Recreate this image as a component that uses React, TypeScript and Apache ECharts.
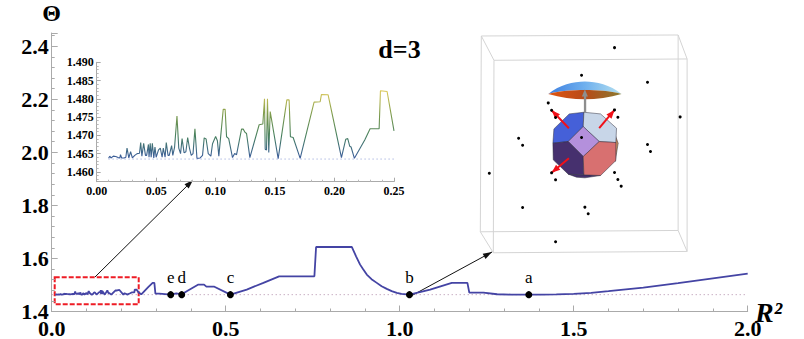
import React, { useEffect, useRef } from "react";
import * as echarts from "echarts";

const insetCurve: number[][] = [
  [0.01,1.4637],[0.011,1.4643],[0.012,1.4638],[0.014,1.4643],[0.016,1.4642],[0.018,1.4639],[0.0195,1.4638],[0.02,1.4647],[0.021,1.4638],[0.023,1.4638],[0.0245,1.464],[0.0255,1.4665],[0.027,1.4638],[0.0285,1.4655],[0.03,1.4638],[0.032,1.4645],[0.034,1.465],[0.036,1.4651],[0.037,1.468],[0.038,1.4643],[0.0395,1.4678],[0.041,1.4645],[0.042,1.4645],[0.0435,1.4675],[0.044,1.464],[0.045,1.4678],[0.0458,1.464],[0.0468,1.4678],[0.048,1.4638],[0.049,1.4668],[0.05,1.464],[0.052,1.466],[0.0535,1.4665],[0.055,1.464],[0.056,1.4665],[0.0575,1.464],[0.0585,1.468],[0.06,1.4645],[0.061,1.4645],[0.063,1.4672],[0.064,1.4645],[0.0655,1.4668],[0.0675,1.4753],[0.069,1.4665],[0.0705,1.465],[0.0718,1.4691],[0.0735,1.4652],[0.075,1.4655],[0.0765,1.4694],[0.078,1.4665],[0.0795,1.4645],[0.081,1.465],[0.0826,1.4718],[0.0843,1.4637],[0.087,1.4638],[0.089,1.4645],[0.0904,1.4693],[0.092,1.469],[0.0938,1.465],[0.096,1.4643],[0.0974,1.4677],[0.1,1.4697],[0.1015,1.4685],[0.1027,1.4643],[0.1064,1.4771],[0.108,1.4771],[0.1092,1.4696],[0.111,1.4691],[0.1142,1.4639],[0.116,1.465],[0.1176,1.4647],[0.1218,1.4717],[0.1232,1.4717],[0.1248,1.4708],[0.126,1.4705],[0.1288,1.4639],[0.1366,1.4729],[0.1397,1.4731],[0.1411,1.48],[0.1417,1.4662],[0.1428,1.466],[0.1436,1.48],[0.1447,1.4653],[0.1459,1.4765],[0.1526,1.4636],[0.1599,1.4797],[0.1618,1.4797],[0.1629,1.4696],[0.1652,1.4694],[0.1711,1.4637],[0.1828,1.4791],[0.1879,1.4792],[0.189,1.4812],[0.1946,1.4811],[0.2058,1.4639],[0.2094,1.4689],[0.2111,1.4691],[0.2128,1.467],[0.2139,1.4668],[0.2167,1.4637],[0.2254,1.4687],[0.2299,1.4718],[0.2375,1.4718],[0.2386,1.4822],[0.2442,1.482],[0.25,1.4712],
];
const upperCurve: number[][] = [
  [0.2575,1.465],[0.278,1.4927],[0.29,1.508],[0.295,1.508],[0.298,1.4677],[0.309,1.4677],[0.342,1.4635],[0.358,1.4685],[0.3736,1.4645],[0.388,1.476],[0.4215,1.5015],[0.4378,1.5015],[0.4445,1.494],[0.4675,1.4935],[0.5135,1.4635],[0.5605,1.4827],[0.6083,1.508],[0.6535,1.5327],[0.7549,1.5327],[0.7597,1.6432],[0.8623,1.6432],[0.875,1.607],[0.8862,1.5767],[0.895,1.559],[0.9054,1.5391],[0.919,1.522],[0.9342,1.5079],[0.948,1.495],[0.9629,1.4853],[0.977,1.477],[0.9917,1.4703],[1.005,1.4665],[1.028,1.4635],[1.0874,1.4827],[1.1497,1.5078],[1.1946,1.5078],[1.2,1.4714],[1.2406,1.4714],[1.28,1.465],[1.32,1.4638],[1.371,1.4635],[1.41,1.4636],[1.45,1.4642],[1.5,1.4665],[1.55,1.4705],[1.6,1.4765],[1.7,1.49],[1.8,1.507],[1.9,1.525],[2.0,1.5429],
];
const markerNames = ["a", "b", "c", "d", "e"];
const markerR2 = [1.371, 1.028, 0.5135, 0.3736, 0.342];
const minTheta = 1.4635;
const mainXTicks = [0, 0.5, 1, 1.5, 2];
const insetYMajor = [1.46, 1.465, 1.47, 1.475, 1.48, 1.485, 1.49];
const insetYMinor = [1.458,1.459,1.46,1.461,1.462,1.463,1.464,1.465,1.466,1.467,1.468,1.469,1.47,1.471,1.472,1.473,1.474,1.475,1.476,1.477,1.478,1.479,1.48,1.481,1.482,1.483,1.484,1.485,1.486,1.487,1.488,1.489,1.49];

echarts.graphic.registerShape("dome", echarts.graphic.extendPath("M235 222 C270 195 310 185 345 185 C380 185 420 195 455 222 C420 212 380 210 345 210 C310 210 270 212 235 222 Z", {}));
echarts.graphic.registerShape("underside", echarts.graphic.extendPath("M235 222 C270 212 310 210 345 210 C380 210 420 212 455 222 C420 232 380 238 345 238 C310 238 270 232 235 222 Z", {}));

const boxDots = [[434,83],[335,166],[533,187],[631,291],[235,249],[245,271],[257,293],[434,270],[444,292],[146,355],[158,376],[335,353],[533,374],[542,395],[58,460],[245,459],[257,480],[434,458],[444,479],[454,499],[158,563],[345,562],[355,582],[257,666]];
const boxLines = [
  [[34,48],[625,45],[625,632],[31,636],[34,48]],
  [[72,121],[652,117],[652,695],[70,699],[72,121]],
  [[34,48],[72,121]],[[625,45],[652,117]],[[31,636],[70,699]],[[625,632],[652,695]],
];
const faces: [string, number[][]][] = [
  ["#c89060", [[436,345],[445,370],[436,425]]],
  ["#46306e", [[295,463],[342,465],[392,467],[345,474],[320,472]]],
  ["#4560d8", [[295,365],[340,320],[342,277],[298,282],[252,327],[249,370]]],
  ["#c8d6e8", [[342,277],[340,320],[388,365],[438,368],[440,325],[392,282]]],
  ["#b490dc", [[340,320],[388,365],[340,410],[295,365]]],
  ["#46306e", [[249,370],[295,365],[340,410],[342,465],[295,463],[250,420]]],
  ["#d87070", [[388,365],[438,368],[438,422],[392,467],[342,465],[340,410]]],
];
const redArrows = [[[297,325],[245,271]],[[388,325],[434,270]],[[297,415],[245,459]]];

function head(x0: number, y0: number, x1: number, y1: number, len: number, half: number) {
  const d = Math.hypot(x1 - x0, y1 - y0);
  const ux = (x1 - x0) / d, uy = (y1 - y0) / d;
  return [[x1, y1], [x1 - ux * len - uy * half, y1 - uy * len + ux * half], [x1 - ux * len + uy * half, y1 - uy * len - ux * half]];
}

function blackArrow(x0: number, y0: number, x1: number, y1: number) {
  return [
    { type: "line", shape: { x1: x0, y1: y0, x2: x1, y2: y1 }, style: { stroke: "#111", lineWidth: 1 } },
    { type: "polygon", shape: { points: head(x0, y0, x1, y1, 9, 3) }, style: { fill: "#111" } },
  ];
}

const serif = "'Liberation Serif', 'Times New Roman', serif";

export default function App() {
  const ref = useRef<HTMLDivElement>(null);
  useEffect(() => {
    document.body.style.margin = "0";
    const chart = echarts.init(ref.current!, null, { renderer: "svg" });
    const illustration: any[] = [
      ...boxLines.map((pts) => ({ type: "polyline", shape: { points: pts }, style: { stroke: "#d4d4d4", lineWidth: 3, fill: "none" } })),
      ...faces.map(([fill, pts]) => ({ type: "polygon", shape: { points: pts }, style: { fill, stroke: "#2a2a3a", lineWidth: 1.5 } })),
      { type: "dome", style: { fill: new echarts.graphic.LinearGradient(0, 0, 1, 0, [{ offset: 0, color: "#3f80e0" }, { offset: 0.5, color: "#6fb0ee" }, { offset: 1, color: "#b4e0f0" }]) } },
      { type: "underside", style: { fill: new echarts.graphic.LinearGradient(0, 0, 1, 0, [{ offset: 0, color: "#e05510" }, { offset: 0.5, color: "#b84a18" }, { offset: 1, color: "#8a7a30" }]) } },
      { type: "rect", shape: { x: 342, y: 222, width: 7, height: 55 }, style: { fill: "#8e8e8e" } },
      { type: "polygon", shape: { points: [[345, 208], [336, 230], [354, 230]] }, style: { fill: "#8e8e8e" } },
      ...redArrows.flatMap(([a, b]) => [
        { type: "line", shape: { x1: a[0], y1: a[1], x2: b[0], y2: b[1] }, style: { stroke: "#f01018", lineWidth: 6 } },
        { type: "polygon", shape: { points: head(a[0], a[1], b[0], b[1], 26, 10) }, style: { fill: "#f01018" } },
      ]),
      ...boxDots.map(([cx, cy]) => ({ type: "circle", shape: { cx, cy, r: 4.5 }, style: { fill: "#000" } })),
    ];
    chart.setOption({
      animation: false,
      backgroundColor: "#fff",
      textStyle: { fontFamily: serif },
      grid: [
        { left: 51.7, right: 56.3, top: 33, bottom: 27 },
        { left: 96.7, right: 410, top: 62.3, bottom: 157.3 },
      ],
      xAxis: [
        {
          type: "value", gridIndex: 0, min: 0, max: 2, interval: 0.5, splitLine: { show: false },
          axisLine: { lineStyle: { color: "#aaa" } },
          axisTick: { inside: true, length: 6, lineStyle: { color: "#aaa" } },
          minorTick: { show: true, splitNumber: 5, length: 3, lineStyle: { color: "#aaa" } },
          axisLabel: { fontFamily: serif, fontWeight: "bold", fontSize: 22, lineHeight: 15, color: "#000", margin: 9, formatter: (v: number) => v.toFixed(1), customValues: mainXTicks },
        },
        {
          type: "value", gridIndex: 1, min: 0, max: 0.25, interval: 0.05, splitLine: { show: false },
          axisLine: { lineStyle: { color: "#aaa" } },
          axisTick: { inside: true, length: 4, lineStyle: { color: "#aaa" } },
          minorTick: { show: true, splitNumber: 5, length: 2, lineStyle: { color: "#bbb" } },
          axisLabel: { fontFamily: serif, fontWeight: "bold", fontSize: 12, color: "#000", margin: 3, formatter: (v: number) => v.toFixed(2) },
        },
      ],
      yAxis: [
        {
          type: "value", gridIndex: 0, min: 1.4, max: 2.45, interval: 0.2, splitLine: { show: false },
          axisLine: { lineStyle: { color: "#aaa" } },
          axisTick: { inside: true, length: 6, lineStyle: { color: "#aaa" } },
          minorTick: { show: true, splitNumber: 5, length: 3, lineStyle: { color: "#aaa" } },
          axisLabel: { fontFamily: serif, fontWeight: "bold", fontSize: 22, lineHeight: 15, color: "#000", margin: 3, showMaxLabel: false, formatter: (v: number) => v.toFixed(1) },
          name: "Θ", nameLocation: "end", nameGap: 8,
          nameTextStyle: { fontFamily: serif, fontWeight: "bold", fontSize: 24, color: "#000", align: "center" },
        },
        {
          type: "value", gridIndex: 1, min: 1.4573, max: 1.49, splitLine: { show: false },
          axisLine: { lineStyle: { color: "#aaa" } },
          axisTick: { inside: true, length: 2, customValues: insetYMinor, lineStyle: { color: "#bbb" } },
          axisLabel: { fontFamily: serif, fontWeight: "bold", fontSize: 12, color: "#000", margin: 3, customValues: insetYMajor, formatter: (v: number) => v.toFixed(3) },
        },
        {
          type: "value", gridIndex: 1, min: 1.4573, max: 1.49, position: "left", splitLine: { show: false },
          axisLine: { show: false },
          axisTick: { inside: true, length: 4, customValues: insetYMajor, lineStyle: { color: "#aaa" } },
          axisLabel: { show: false },
        },
      ],
      visualMap: [{
        type: "continuous", show: false, seriesIndex: 3, dimension: 1, min: minTheta, max: 1.4822,
        inRange: { color: ["#3a5a9e", "#47805f", "#7f9c4c", "#dcc858"] },
      }],
      series: [
        { type: "line", xAxisIndex: 0, yAxisIndex: 0, symbol: "none", silent: true, data: [[0, minTheta], [2, minTheta]], lineStyle: { color: "#b08aa8", width: 1, type: [1, 3] } },
        { type: "line", xAxisIndex: 0, yAxisIndex: 0, symbol: "none", data: [...insetCurve, ...upperCurve], lineStyle: { color: "#4444a4", width: 1.8 } },
        {
          type: "scatter", xAxisIndex: 0, yAxisIndex: 0, symbolSize: 7, itemStyle: { color: "#000", opacity: 1 }, z: 5,
          data: markerR2.map((x, i) => ({ value: [x, minTheta], name: markerNames[i] })),
          label: { show: true, position: "top", distance: 5, formatter: "{b}", fontFamily: serif, fontSize: 17, color: "#000" },
        },
        { type: "line", xAxisIndex: 1, yAxisIndex: 1, symbol: "none", data: insetCurve, lineStyle: { width: 1.1 } },
        { type: "line", xAxisIndex: 1, yAxisIndex: 1, symbol: "none", silent: true, data: [[0.01, minTheta], [0.25, minTheta]], lineStyle: { color: "#8a9ad4", width: 1, type: [1, 3] } },
      ],
      graphic: [
        { type: "rect", shape: { x: 54.7, y: 277.3, width: 84, height: 27 }, style: { fill: "none", stroke: "#ee1c25", lineWidth: 2, lineDash: [5, 2] } },
        ...blackArrow(95, 277, 193, 180),
        ...blackArrow(411, 296, 492, 252),
        { type: "text", x: 399.5, y: 49, style: { text: "d=3", font: `bold 26px ${serif}`, fill: "#000", align: "center", verticalAlign: "middle" } },
        { type: "text", x: 755, y: 312, style: { text: "R²", font: `italic bold 28px ${serif}`, lineHeight: 18, fill: "#000", align: "left", verticalAlign: "middle" } },
        { type: "group", x: 470, y: 20, scaleX: 1 / 3, scaleY: 1 / 3, children: illustration },
      ],
    });
    return () => chart.dispose();
  }, []);
  return <div ref={ref} style={{ position: "absolute", left: 0, top: 0, width: 804, height: 339 }} />;
}
